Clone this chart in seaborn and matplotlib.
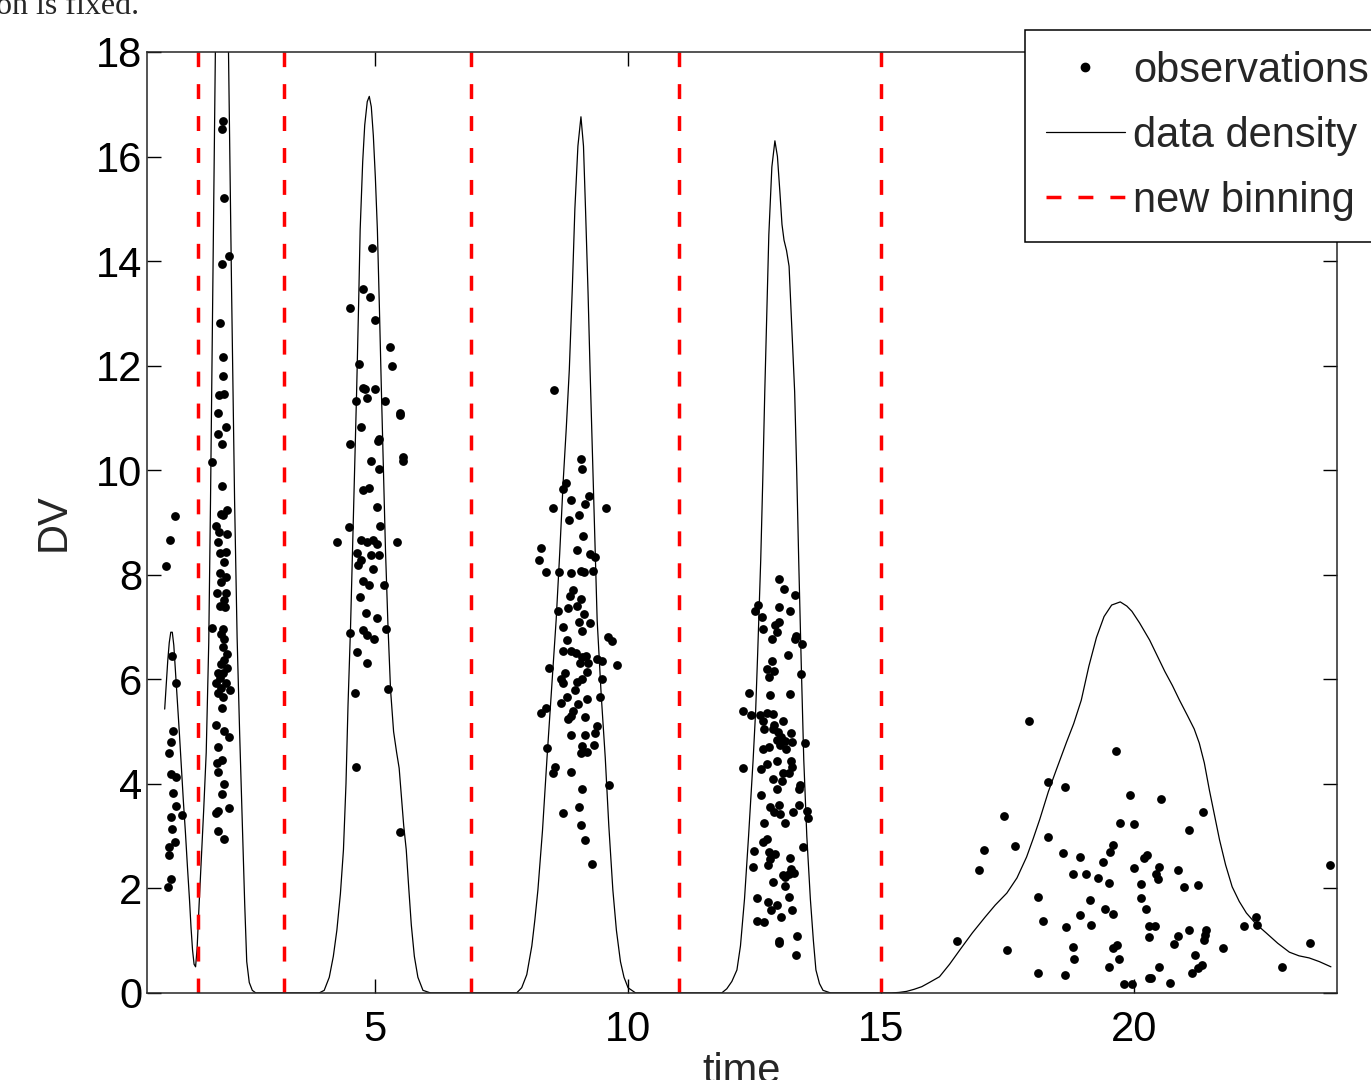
import numpy as np
import pandas as pd
import seaborn as sns
import matplotlib.pyplot as plt
from matplotlib.lines import Line2D

# observations (time, DV)
obs_t = [
    # first bin
    1.05, 0.95, 0.87, 0.99, 1.08, 1.01, 0.97, 0.93, 0.97, 1.08, 1.01, 1.08, 1.20, 0.97,
    0.99, 1.05, 0.93, 0.93, 0.97, 0.91,
    # second bin
    2.01, 1.99, 2.03, 2.11, 1.99, 1.95, 2.01, 2.01, 1.93, 2.03, 1.91, 2.07, 1.91, 1.99,
    1.79, 1.99, 1.97,
    2.09, 2.01, 1.87, 1.93, 2.09, 1.91, 2.07, 1.95, 2.03, 1.95, 2.07, 1.97, 1.89, 2.07,
    2.03, 1.95, 2.05, 1.79, 2.01, 1.97, 2.03, 2.01, 2.09, 2.03, 1.97, 2.09, 1.91, 2.01,
    1.95, 1.87, 2.07, 1.97, 2.13, 1.91, 2.01, 1.99, 1.87, 2.03, 2.11, 1.91, 1.99, 1.89,
    1.91, 2.03, 1.99, 2.11, 1.91, 1.87, 1.91, 2.03,
    # third bin
    4.95, 4.77, 4.91, 4.50, 5.01, 5.29, 4.69, 5.33, 4.77, 4.81, 5.01, 4.62, 4.85, 5.21,
    5.50, 5.50, 4.73, 4.50, 5.07, 5.09, 4.93, 5.56, 5.56, 5.09, 4.77, 4.89, 5.05, 4.48,
    5.11, 4.26, 4.73, 4.85, 4.97, 5.05, 5.44, 4.65, 4.93, 5.09, 4.73, 4.67, 4.97, 4.77,
    4.89, 5.19, 4.71, 4.83, 5.05, 4.50, 4.77, 4.85, 4.99, 5.23, 4.65, 4.85, 4.60, 5.25,
    4.62, 5.50,
    # fourth bin
    8.54, 9.07, 9.09, 8.78, 8.72, 9.23, 8.88, 9.15, 8.52, 9.57, 9.03, 8.84, 9.11, 8.28,
    8.99, 9.25, 9.35, 8.24, 8.38, 8.64, 8.88, 9.07, 9.13, 9.31, 8.92, 8.86, 9.07, 8.62,
    8.82, 8.99, 9.13, 9.03, 9.25, 8.72, 9.09, 9.61, 9.68, 8.80, 8.72, 8.88, 8.97, 9.09,
    9.17, 9.05, 9.21, 9.39, 9.49, 9.78, 8.44, 8.76, 9.19, 8.68, 9.09, 9.49, 8.72, 8.99,
    8.95, 8.80, 9.45, 9.19, 8.68, 9.01, 8.38, 8.28, 8.92, 8.88, 8.82, 9.15, 9.39, 8.88,
    9.15, 9.35, 8.40, 9.09, 9.07, 9.19, 9.33, 8.56, 8.52, 8.88, 9.63, 9.09, 9.03, 8.72,
    9.07, 9.15, 9.29,
    # fifth bin
    12.98, 13.08, 13.29, 12.56, 12.98, 12.50, 13.20, 12.64, 12.98, 12.90, 12.66, 12.94,
    13.31, 12.84, 13.29, 13.43, 13.16, 12.84, 12.74, 12.88, 12.78, 13.41, 12.39, 12.80,
    13.20, 12.27, 12.43, 12.60, 12.74, 12.86, 12.66, 13.06, 12.88, 12.86, 12.68, 12.96,
    13.21, 13.02, 12.94, 13.10, 13.23, 13.00, 13.49, 12.66, 12.78, 13.12,
    12.27, 12.62, 12.74, 12.94, 13.21, 13.23, 13.06, 13.18, 12.86, 13.04, 12.94, 13.39,
    13.37, 12.62, 12.98, 12.80, 13.37, 12.88, 13.00, 13.25, 13.53, 13.55, 13.10, 12.68,
    12.66, 12.74, 13.45, 12.49, 12.78, 12.90, 12.80, 13.20, 12.47, 12.76, 13.21, 13.06,
    13.18, 13.27, 13.10, 12.86, 13.10, 13.18, 12.54, 12.76, 12.94, 12.82, 13.23, 13.02,
    12.54, 12.68, 12.98, 12.98, 13.33, 13.31,
    # sixth bin
    17.91, 19.63, 18.30, 18.62, 19.92, 17.42, 19.72, 20.00, 17.65, 18.30, 17.02, 19.57,
    19.51, 18.58, 18.92, 19.37, 20.18, 20.24, 16.94, 20.00, 18.78, 19.05, 19.29, 19.49,
    20.12, 18.09, 19.13, 20.12, 19.41, 20.22, 18.93, 19.57, 18.20, 19.15, 18.64, 20.28,
    20.28, 16.49, 18.78, 19.57, 19.66, 17.48, 18.80, 19.70, 19.49, 18.09, 18.62, 20.28,
    19.80, 19.96,
    20.53, 21.36, 21.08, 20.49, 20.43, 20.47, 20.87, 20.97, 21.26, 20.41, 21.08, 21.42,
    20.87, 21.40, 21.38, 20.79, 21.74, 22.17, 22.41, 22.43, 23.47, 22.92, 21.20, 20.49,
    21.34, 21.26, 21.14, 20.32, 20.71, 23.87,
]
obs_dv = [
    9.12, 8.66, 8.17, 6.45, 5.93, 5.01, 4.80, 4.59, 4.19, 4.13, 3.83, 3.58, 3.40, 3.37,
    3.14, 2.88, 2.80, 2.63, 2.18, 2.03,
    16.68, 16.53, 15.20, 14.10, 13.94, 12.82, 12.17, 11.80, 11.44, 11.46, 11.09, 10.83,
    10.69, 10.50, 10.16, 9.70, 9.16,
    9.24, 9.14, 8.93, 8.82, 8.78, 8.63, 8.44, 8.42, 8.24, 8.03, 7.96, 7.86, 7.65, 7.65,
    7.52, 7.40, 7.38, 6.98, 6.96, 6.87, 6.77, 6.62, 6.48, 6.37, 6.29, 6.22, 6.12, 6.12,
    6.03, 5.93, 5.93, 5.83, 5.80, 5.74, 5.66, 5.45, 5.13, 5.01, 4.90, 4.71, 4.46, 4.40,
    4.23, 4.00, 3.81, 3.54, 3.48, 3.44, 3.10, 2.95,
    14.25, 13.47, 13.31, 13.10, 12.87, 12.36, 12.03, 11.99, 11.57, 11.55, 11.55, 11.32,
    11.38, 11.32, 11.09, 11.06, 10.83, 10.50, 10.56, 10.60, 10.18, 10.25, 10.18, 10.02,
    9.62, 9.66, 9.30, 8.91, 8.93, 8.63, 8.67, 8.63, 8.67, 8.59, 8.63, 8.42, 8.38, 8.38,
    8.28, 8.19, 8.11, 7.88, 7.80, 7.80, 7.57, 7.27, 7.17, 6.89, 6.94, 6.85, 6.77, 6.96,
    6.52, 6.31, 5.74, 5.81, 4.32, 3.08,
    11.53, 10.21, 10.02, 9.76, 9.64, 9.51, 9.43, 9.35, 9.28, 9.28, 9.14, 9.05, 8.74,
    8.51, 8.47, 8.40, 8.34, 8.28, 8.05, 8.05, 8.03, 8.07, 8.05, 8.07, 7.71, 7.59, 7.54,
    7.31, 7.36, 7.40, 7.25, 7.10, 7.08, 7.00, 6.92, 6.81, 6.73, 6.75, 6.54, 6.54, 6.50,
    6.43, 6.45, 6.31, 6.31, 6.39, 6.35, 6.27, 6.22, 6.12, 6.14, 6.01, 6.01, 6.01, 5.93,
    5.95, 5.80, 5.66, 5.66, 5.62, 5.55, 5.53, 5.45, 5.36, 5.39, 5.30, 5.24, 5.28, 5.11,
    4.94, 4.94, 4.97, 4.69, 4.72, 4.59, 4.61, 4.74, 4.32, 4.21, 4.23, 3.98, 3.90, 3.56,
    3.44, 3.21, 2.93, 2.47,
    7.92, 7.73, 7.61, 7.42, 7.38, 7.31, 7.31, 7.19, 7.10, 7.04, 6.96, 6.91, 6.83, 6.77,
    6.77, 6.68, 6.47, 6.35, 6.20, 6.16, 6.04, 6.10, 5.74, 5.70, 5.72, 5.39, 5.32, 5.32,
    5.36, 5.34, 5.20, 5.20, 5.13, 5.05, 5.05, 4.99, 4.97, 4.90, 4.84, 4.82, 4.80, 4.74,
    4.78, 4.67, 4.71, 4.67,
    4.30, 4.28, 4.38, 4.44, 4.44, 4.32, 4.21, 4.21, 4.09, 4.06, 3.90, 3.98, 3.90, 3.79,
    3.60, 3.56, 3.60, 3.46, 3.42, 3.46, 3.48, 3.35, 3.25, 3.25, 2.89, 2.95, 2.79, 2.72,
    2.70, 2.66, 2.56, 2.58, 2.41, 2.45, 2.37, 2.26, 2.28, 2.30, 2.22, 2.12, 2.05, 1.84,
    1.82, 1.74, 1.68, 1.59, 1.59, 1.45, 1.38, 1.36, 0.99, 0.96, 1.09, 0.73,
    5.20, 4.63, 4.04, 3.94, 3.79, 3.39, 3.25, 3.23, 2.81, 2.98, 2.74, 2.83, 2.70, 2.68,
    2.60, 2.51, 2.58, 2.64, 2.35, 2.39, 2.28, 2.28, 2.20, 2.10, 2.08, 1.84, 1.78, 1.82,
    1.61, 1.61, 1.49, 1.51, 1.38, 1.30, 1.26, 1.28, 1.07, 0.99, 0.88, 0.86, 0.92, 0.82,
    0.65, 0.65, 0.50, 0.38, 0.35, 0.29, 0.17, 0.17,
    3.71, 3.46, 3.12, 2.41, 2.28, 2.18, 2.35, 2.03, 2.07, 1.28, 1.21, 1.21, 1.09, 1.11,
    1.01, 0.94, 0.86, 1.28, 1.45, 1.30, 0.96, 0.50, 0.73, 0.50, 0.54, 0.48, 0.38, 0.29,
    0.19, 2.45,
]

# data density curve
dens_t = [
    0.85, 0.88, 0.91, 0.94, 0.97, 1.00, 1.03, 1.06, 1.10, 1.14, 1.18, 1.22, 1.26, 1.30,
    1.34, 1.37, 1.40, 1.43, 1.46, 1.49, 1.53, 1.57, 1.62, 1.67, 1.72, 1.755, 1.80, 1.85,
    1.92, 1.98, 2.04, 2.11, 2.17, 2.23, 2.28, 2.33, 2.38, 2.43, 2.47, 2.52, 2.58, 2.65,
    3.90, 4.00, 4.10, 4.18, 4.25, 4.32, 4.38, 4.43, 4.47, 4.52, 4.56, 4.60, 4.64, 4.68,
    4.71, 4.76, 4.80, 4.85, 4.89, 4.93, 4.97, 5.01, 5.05, 5.09, 5.13, 5.17, 5.21, 5.26,
    5.31, 5.37, 5.43, 5.48, 5.52, 5.57, 5.62, 5.67, 5.72, 5.78, 5.85, 5.95, 6.10,
    7.80, 7.90, 8.00, 8.10, 8.16, 8.22, 8.31, 8.40, 8.49, 8.58, 8.65, 8.72, 8.78, 8.84,
    8.90, 8.95, 9.01, 9.07, 9.12, 9.16, 9.21, 9.25, 9.32, 9.39, 9.47, 9.55, 9.62, 9.70,
    9.77, 9.85, 9.92, 10.00, 10.15,
    11.85, 11.95, 12.05, 12.15, 12.22, 12.30, 12.38, 12.47, 12.52, 12.56, 12.62, 12.66,
    12.70, 12.74, 12.78, 12.84, 12.90, 12.95, 13.00, 13.04, 13.08, 13.13, 13.18, 13.23,
    13.29, 13.33, 13.37, 13.42, 13.47, 13.53, 13.60, 13.66, 13.71, 13.78, 13.85, 14.00,
    15.20, 15.35, 15.50, 15.65, 15.80, 15.95, 16.15, 16.35, 16.55, 16.80, 17.05, 17.25,
    17.48, 17.68, 17.87, 18.00, 18.13, 18.30, 18.45, 18.66, 18.80, 18.95, 19.10, 19.25,
    19.40, 19.55, 19.72, 19.85, 19.95, 20.10, 20.30, 20.45, 20.60, 20.75, 20.89, 21.05,
    21.18, 21.28, 21.38, 21.48, 21.58, 21.68, 21.80, 21.93, 22.07, 22.21, 22.40, 22.60,
    22.83, 23.06, 23.25, 23.45, 23.65, 23.88,
]
dens_y = [
    5.43, 5.90, 6.35, 6.70, 6.90, 6.90, 6.65, 6.20, 5.60, 4.97, 4.30, 3.65, 3.06, 2.40,
    1.78, 1.25, 0.82, 0.55, 0.50, 0.85, 1.70, 2.50, 3.50, 4.60, 6.70, 9.43, 13.5, 18.0,
    24.0, 26.0, 24.0, 18.0, 13.5, 9.43, 6.80, 4.97, 3.30, 1.70, 0.60, 0.20, 0.05, 0.0,
    0.0, 0.05, 0.30, 0.70, 1.20, 1.90, 2.74, 4.00, 5.50, 7.00, 8.47, 10.0, 11.5, 13.2,
    14.6, 15.9, 16.6, 17.05, 17.15, 16.95, 16.4, 15.6, 14.6, 13.1, 11.5, 10.0, 8.47, 7.00,
    5.80, 5.00, 4.60, 4.30, 3.80, 3.20, 2.74, 2.00, 1.30, 0.70, 0.30, 0.05, 0.0,
    0.0, 0.10, 0.35, 0.90, 1.40, 1.97, 3.10, 4.50, 5.80, 7.13, 8.40, 9.80, 10.8, 11.92,
    13.5, 15.0, 16.2, 16.76, 16.2, 15.0, 13.4, 11.92, 9.50, 7.13, 5.70, 4.50, 3.20, 1.97,
    1.20, 0.60, 0.30, 0.10, 0.0,
    0.0, 0.08, 0.22, 0.44, 0.90, 1.80, 3.00, 4.46, 5.40, 6.50, 8.28, 9.80,
    11.5, 13.0, 14.5, 15.8, 16.3, 16.0, 15.3, 14.7, 14.4, 14.2, 13.9, 12.8,
    11.5, 10.0, 8.28, 6.30, 4.46, 3.00, 1.80, 1.00, 0.44, 0.18, 0.05, 0.0,
    0.0, 0.01, 0.03, 0.07, 0.12, 0.20, 0.31, 0.55, 0.82, 1.15, 1.45, 1.68,
    1.91, 2.20, 2.60, 2.95, 3.32, 3.85, 4.25, 4.80, 5.15, 5.60, 6.25, 6.80,
    7.20, 7.42, 7.48, 7.40, 7.30, 7.08, 6.75, 6.45, 6.15, 5.88, 5.60, 5.30,
    5.05, 4.78, 4.40, 3.88, 3.40, 2.93, 2.45, 2.03, 1.75, 1.53, 1.32, 1.15,
    0.95, 0.78, 0.71, 0.67, 0.60, 0.50,
]

new_bins = [1.5, 3.2, 6.9, 11.0, 15.0]

obs = pd.DataFrame({'time': obs_t, 'DV': obs_dv})
dens = pd.DataFrame({'time': dens_t, 'density': dens_y})

sns.set_theme(style='ticks')
plt.rcParams['font.family'] = ['Liberation Sans', 'DejaVu Sans']
plt.rcParams['axes.linewidth'] = 1.1

fig = plt.figure(figsize=(13.71, 10.8), dpi=100)
ax = fig.add_axes([0.1072, 0.0806, 0.8680, 0.8713])

sns.lineplot(data=dens, x='time', y='density', color='black', linewidth=0.9,
             estimator=None, sort=False, ax=ax)
sns.scatterplot(data=obs, x='time', y='DV', color='black', s=40, linewidth=0, ax=ax)
for b in new_bins:
    ax.axvline(b, color='red', linestyle=(0, (4.3, 4.9)), linewidth=2.5)

ax.set_xlim(0.5, 24)
ax.set_ylim(0, 18)
ax.set_xticks([5, 10, 15, 20])
ax.set_yticks(range(0, 19, 2))
ax.tick_params(direction='in', length=10, width=1, labelsize=30, top=True, right=True,
               colors='black')
ax.tick_params(axis='x', pad=12)
ax.set_xlabel('time', fontsize=30, labelpad=2)
ax.set_ylabel('DV', fontsize=30, labelpad=16)

handles = [
    Line2D([], [], color='black', marker='.', linestyle='none', markersize=12),
    Line2D([], [], color='black', linewidth=0.9),
    Line2D([], [], color='red', linewidth=2.5, linestyle=(0, (4.3, 4.9))),
]
labels = ['observations', 'data density', 'new binning']
leg = ax.legend(handles, labels, loc='upper left', bbox_to_anchor=(1025 / 1371, 1 - 30 / 1080),
                bbox_transform=fig.transFigure, borderaxespad=0, fontsize=30,
                fancybox=False, framealpha=1, edgecolor='black', handlelength=1.9,
                labelspacing=0.6, handletextpad=0.2, borderpad=0.5)
leg.get_frame().set_linewidth(1.1)

# tail of the surrounding paper text, cut off at the top edge
fig.text(-0.003, 1 - 14 / 1080, 'on is fixed.', fontsize=23, family='Liberation Serif',
         va='baseline', ha='left')

fig.savefig('out.png', dpi=100)
